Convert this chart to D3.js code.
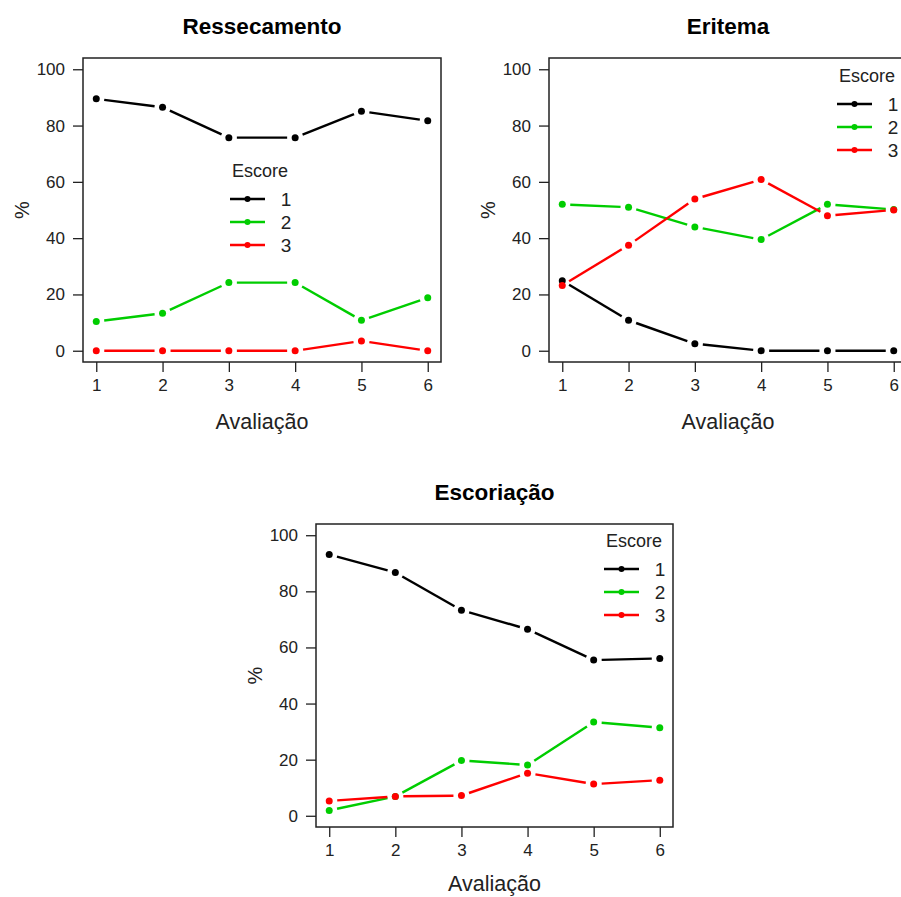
<!DOCTYPE html>
<html>
<head>
<meta charset="utf-8">
<script src="https://cdn.jsdelivr.net/npm/d3@7"></script>
<style>
  body { margin: 0; background: #fff; }
  svg text { font-family: "Liberation Sans", Arial, sans-serif; }
</style>
</head>
<body>
<svg id="chart" width="901" height="897"></svg>
<script>
///////// data //////////
const avaliacoes = [1, 2, 3, 4, 5, 6];
const escores = ["1", "2", "3"];
const y_ticks = [0, 20, 40, 60, 80, 100];

const ressecamento_1 = [89.5, 86.5, 75.7, 75.7, 85.1, 81.7];
const ressecamento_2 = [10.4, 13.3, 24.2, 24.2, 10.8, 18.8];
const ressecamento_3 = [0, 0, 0, 0, 3.5, 0];

const eritema_1 = [24.9, 10.8, 2.5, 0, 0, 0];
const eritema_2 = [52.0, 51.0, 44.0, 39.5, 52.0, 50.2];
const eritema_3 = [23.2, 37.5, 53.9, 60.8, 48.0, 50.0];

const escoriacao_1 = [93.1, 86.7, 73.3, 66.5, 55.5, 56.1];
const escoriacao_2 = [1.9, 6.9, 19.7, 18.1, 33.4, 31.4];
const escoriacao_3 = [5.3, 6.9, 7.2, 15.2, 11.3, 12.7];

const cores = ["#000000", "#00cd00", "#ff0000"];

////////////////////// panels //////////////////////
let svg = d3.select("#chart");

let panels = [
  {title: "Ressecamento", series: [ressecamento_1, ressecamento_2, ressecamento_3],
   box: {x: 83, y: 58, w: 358, h: 304}, legend: {x: 230, y: 171}, xlab_dy: 60},
  {title: "Eritema", series: [eritema_1, eritema_2, eritema_3],
   box: {x: 549, y: 58, w: 358, h: 304}, legend: {x: 837, y: 76}, xlab_dy: 60},
  {title: "Escoriação", series: [escoriacao_1, escoriacao_2, escoriacao_3],
   box: {x: 316, y: 524, w: 357, h: 303}, legend: {x: 604, y: 541}, xlab_dy: 57},
];

for (let p of panels) drawPanel(p);

function drawPanel(p) {
  let {x: bx, y: by, w, h} = p.box;
  let x = d3.scaleLinear().domain([0.8, 6.2]).range([bx, bx + w]);
  let y = d3.scaleLinear().domain([-4, 104]).range([by + h, by]);
  let fs_tick = 17;

  // title
  svg.append("text")
    .attr("x", bx + w / 2).attr("y", by - 32)
    .attr("text-anchor", "middle").attr("dominant-baseline", "central")
    .style("font-size", "22.5px").style("font-weight", "bold")
    .text(p.title);

  // axes
  let ax = svg.append("g")
    .attr("transform", "translate(0," + (by + h) + ")")
    .call(d3.axisBottom(x).tickValues(avaliacoes).tickSize(10).tickPadding(7).tickFormat(d3.format("d")));
  let ay = svg.append("g")
    .attr("transform", "translate(" + bx + ",0)")
    .call(d3.axisLeft(y).tickValues(y_ticks).tickSize(10).tickPadding(8));
  for (let a of [ax, ay]) {
    a.select(".domain").remove();
    a.selectAll("line").attr("stroke", "#222").attr("stroke-width", 1.3);
    a.selectAll("text").style("font-size", fs_tick + "px").attr("fill", "#222")
      .style("font-family", "'Liberation Sans', Arial, sans-serif");
  }

  // box
  svg.append("rect")
    .attr("x", bx).attr("y", by).attr("width", w).attr("height", h)
    .attr("fill", "none").attr("stroke", "#222").attr("stroke-width", 1.5);

  // axis labels
  svg.append("text")
    .attr("x", bx + w / 2).attr("y", by + h + p.xlab_dy)
    .attr("text-anchor", "middle").attr("dominant-baseline", "central")
    .style("font-size", "21.5px").attr("fill", "#222")
    .text("Avaliação");
  svg.append("text")
    .attr("transform", "translate(" + (bx - 61) + "," + (by + h / 2) + ")rotate(-90)")
    .attr("text-anchor", "middle").attr("dominant-baseline", "central")
    .style("font-size", "20px").attr("fill", "#222")
    .text("%");

  // lines, type "b": segments stop short of the points
  let gap = 8;
  p.series.forEach(function(vals, si) {
    let pts = vals.map((v, i) => [x(avaliacoes[i]), y(v)]);
    let segs = [];
    for (let i = 0; i < pts.length - 1; i++) {
      let [x0, y0] = pts[i], [x1, y1] = pts[i + 1];
      let len = Math.hypot(x1 - x0, y1 - y0);
      if (len <= 2 * gap) continue;
      let ux = (x1 - x0) / len, uy = (y1 - y0) / len;
      segs.push([x0 + ux * gap, y0 + uy * gap, x1 - ux * gap, y1 - uy * gap]);
    }
    svg.append("g").selectAll("line").data(segs).enter().append("line")
      .attr("x1", d => d[0]).attr("y1", d => d[1])
      .attr("x2", d => d[2]).attr("y2", d => d[3])
      .attr("stroke", cores[si]).attr("stroke-width", 2.4);
    svg.append("g").selectAll("circle").data(pts).enter().append("circle")
      .attr("cx", d => d[0]).attr("cy", d => d[1]).attr("r", 3.5)
      .attr("fill", cores[si]);
  });

  // legend
  let lg = svg.append("g").attr("transform", "translate(" + p.legend.x + "," + p.legend.y + ")");
  lg.append("text")
    .attr("x", 30).attr("y", 0)
    .attr("text-anchor", "middle").attr("dominant-baseline", "central")
    .style("font-size", "18px").attr("fill", "#222")
    .text("Escore");
  escores.forEach(function(e, i) {
    let ly = 28 + i * 23;
    lg.append("line").attr("x1", 0).attr("x2", 35).attr("y1", ly).attr("y2", ly)
      .attr("stroke", cores[i]).attr("stroke-width", 2.4);
    lg.append("circle").attr("cx", 17.5).attr("cy", ly).attr("r", 3).attr("fill", cores[i]);
    lg.append("text").attr("x", 56).attr("y", ly)
      .attr("text-anchor", "middle").attr("dominant-baseline", "central")
      .style("font-size", "19px").attr("fill", "#222")
      .text(e);
  });
}
</script>
</body>
</html>
